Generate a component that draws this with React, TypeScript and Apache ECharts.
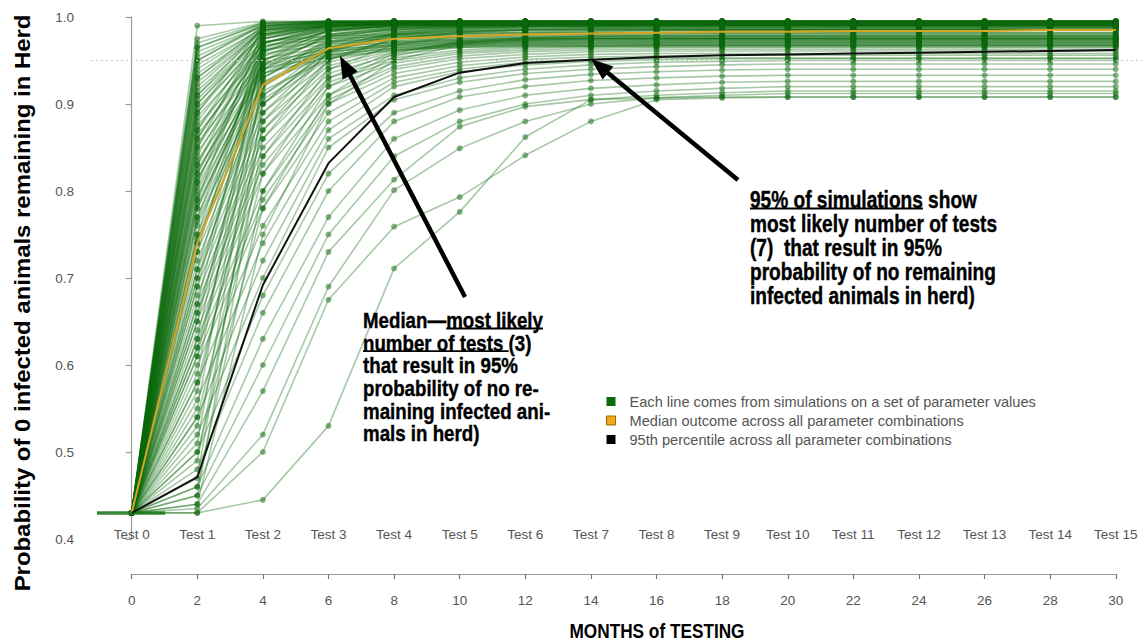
import React, { useEffect, useRef } from "react";
import * as echarts from "echarts";

// ---------------- DATA ----------------
const testIndex = [0, 1, 2, 3, 4, 5, 6, 7, 8, 9, 10, 11, 12, 13, 14, 15];

const medianValues = [0.43, 0.74, 0.922, 0.964, 0.975, 0.978, 0.98, 0.981, 0.982, 0.983, 0.983, 0.984, 0.984, 0.984, 0.985, 0.985];
const p95Values = [0.43, 0.471, 0.692, 0.832, 0.908, 0.936, 0.947, 0.951, 0.954, 0.956, 0.957, 0.958, 0.959, 0.96, 0.961, 0.962];

// simulation lines (one per parameter set), values at Test 0..15
const simLines: number[][] = [
  [0.43, 0.99, 0.995, 0.995, 0.995, 0.995, 0.995, 0.995, 0.995, 0.995, 0.995, 0.995, 0.995, 0.995, 0.995, 0.995],
  [0.43, 0.97, 0.993, 0.995, 0.995, 0.995, 0.995, 0.995, 0.995, 0.995, 0.995, 0.995, 0.995, 0.995, 0.995, 0.995],
  [0.43, 0.96, 0.99, 0.994, 0.995, 0.995, 0.995, 0.995, 0.995, 0.995, 0.995, 0.995, 0.995, 0.995, 0.995, 0.995],
  [0.43, 0.95, 0.99, 0.993, 0.994, 0.994, 0.994, 0.994, 0.994, 0.994, 0.994, 0.994, 0.994, 0.994, 0.994, 0.994],
  [0.43, 0.94, 0.988, 0.992, 0.993, 0.993, 0.993, 0.993, 0.993, 0.993, 0.993, 0.993, 0.993, 0.993, 0.993, 0.993],
  [0.43, 0.93, 0.985, 0.99, 0.992, 0.993, 0.993, 0.993, 0.993, 0.993, 0.993, 0.993, 0.993, 0.993, 0.993, 0.993],
  [0.43, 0.92, 0.985, 0.991, 0.993, 0.994, 0.994, 0.994, 0.994, 0.994, 0.994, 0.994, 0.994, 0.994, 0.994, 0.994],
  [0.43, 0.91, 0.98, 0.99, 0.992, 0.993, 0.993, 0.993, 0.993, 0.993, 0.993, 0.993, 0.993, 0.993, 0.993, 0.993],
  [0.43, 0.9, 0.982, 0.99, 0.992, 0.992, 0.992, 0.992, 0.992, 0.992, 0.992, 0.992, 0.992, 0.992, 0.992, 0.992],
  [0.43, 0.89, 0.978, 0.988, 0.991, 0.992, 0.992, 0.992, 0.992, 0.992, 0.992, 0.992, 0.992, 0.992, 0.992, 0.992],
  [0.43, 0.88, 0.975, 0.987, 0.99, 0.991, 0.992, 0.992, 0.992, 0.992, 0.992, 0.992, 0.992, 0.992, 0.992, 0.992],
  [0.43, 0.87, 0.97, 0.985, 0.989, 0.99, 0.991, 0.991, 0.991, 0.991, 0.991, 0.991, 0.991, 0.991, 0.991, 0.991],
  [0.43, 0.86, 0.975, 0.99, 0.993, 0.994, 0.994, 0.994, 0.994, 0.994, 0.994, 0.994, 0.994, 0.994, 0.994, 0.994],
  [0.43, 0.85, 0.965, 0.983, 0.988, 0.99, 0.991, 0.991, 0.991, 0.991, 0.991, 0.991, 0.991, 0.991, 0.991, 0.991],
  [0.43, 0.84, 0.97, 0.986, 0.99, 0.991, 0.991, 0.991, 0.991, 0.991, 0.991, 0.991, 0.991, 0.991, 0.991, 0.991],
  [0.43, 0.83, 0.96, 0.98, 0.986, 0.988, 0.989, 0.99, 0.99, 0.99, 0.99, 0.99, 0.99, 0.99, 0.99, 0.99],
  [0.43, 0.82, 0.955, 0.978, 0.985, 0.988, 0.989, 0.99, 0.99, 0.99, 0.99, 0.99, 0.99, 0.99, 0.99, 0.99],
  [0.43, 0.81, 0.962, 0.984, 0.99, 0.992, 0.992, 0.992, 0.992, 0.992, 0.992, 0.992, 0.992, 0.992, 0.992, 0.992],
  [0.43, 0.8, 0.95, 0.975, 0.983, 0.986, 0.987, 0.988, 0.988, 0.988, 0.988, 0.988, 0.988, 0.988, 0.988, 0.988],
  [0.43, 0.79, 0.945, 0.977, 0.986, 0.989, 0.99, 0.99, 0.99, 0.99, 0.99, 0.99, 0.99, 0.99, 0.99, 0.99],
  [0.43, 0.78, 0.94, 0.972, 0.981, 0.984, 0.986, 0.987, 0.987, 0.987, 0.987, 0.987, 0.987, 0.987, 0.987, 0.987],
  [0.43, 0.77, 0.935, 0.97, 0.98, 0.984, 0.985, 0.986, 0.986, 0.986, 0.986, 0.986, 0.986, 0.986, 0.986, 0.986],
  [0.43, 0.76, 0.93, 0.968, 0.979, 0.983, 0.985, 0.986, 0.986, 0.986, 0.986, 0.986, 0.986, 0.986, 0.986, 0.986],
  [0.43, 0.75, 0.925, 0.965, 0.977, 0.981, 0.983, 0.984, 0.985, 0.985, 0.985, 0.985, 0.985, 0.985, 0.985, 0.985],
  [0.43, 0.74, 0.92, 0.963, 0.976, 0.98, 0.982, 0.983, 0.984, 0.985, 0.985, 0.985, 0.985, 0.985, 0.985, 0.985],
  [0.43, 0.73, 0.91, 0.958, 0.972, 0.977, 0.979, 0.98, 0.981, 0.981, 0.981, 0.981, 0.981, 0.981, 0.981, 0.981],
  [0.43, 0.72, 0.905, 0.955, 0.97, 0.975, 0.977, 0.978, 0.979, 0.979, 0.979, 0.979, 0.979, 0.979, 0.979, 0.979],
  [0.43, 0.71, 0.9, 0.952, 0.968, 0.973, 0.976, 0.977, 0.978, 0.978, 0.978, 0.978, 0.978, 0.978, 0.978, 0.978],
  [0.43, 0.7, 0.89, 0.948, 0.965, 0.971, 0.974, 0.975, 0.976, 0.976, 0.976, 0.976, 0.976, 0.976, 0.976, 0.976],
  [0.43, 0.69, 0.88, 0.944, 0.962, 0.969, 0.972, 0.973, 0.974, 0.974, 0.974, 0.974, 0.974, 0.974, 0.974, 0.974],
  [0.43, 0.68, 0.87, 0.94, 0.96, 0.967, 0.97, 0.971, 0.972, 0.972, 0.972, 0.972, 0.972, 0.972, 0.972, 0.972],
  [0.43, 0.67, 0.86, 0.935, 0.957, 0.965, 0.968, 0.969, 0.97, 0.97, 0.97, 0.97, 0.97, 0.97, 0.97, 0.97],
  [0.43, 0.66, 0.85, 0.93, 0.953, 0.962, 0.966, 0.967, 0.968, 0.968, 0.968, 0.968, 0.968, 0.968, 0.968, 0.968],
  [0.43, 0.65, 0.84, 0.925, 0.95, 0.96, 0.964, 0.966, 0.967, 0.967, 0.967, 0.967, 0.967, 0.967, 0.967, 0.967],
  [0.43, 0.64, 0.83, 0.92, 0.947, 0.958, 0.962, 0.964, 0.965, 0.965, 0.965, 0.965, 0.965, 0.965, 0.965, 0.965],
  [0.43, 0.63, 0.82, 0.91, 0.943, 0.955, 0.96, 0.962, 0.963, 0.963, 0.963, 0.963, 0.963, 0.963, 0.963, 0.963],
  [0.43, 0.62, 0.8, 0.905, 0.94, 0.952, 0.957, 0.96, 0.961, 0.961, 0.961, 0.961, 0.961, 0.961, 0.961, 0.961],
  [0.43, 0.61, 0.79, 0.9, 0.935, 0.948, 0.954, 0.957, 0.958, 0.958, 0.958, 0.958, 0.958, 0.958, 0.958, 0.958],
  [0.43, 0.6, 0.78, 0.89, 0.93, 0.944, 0.951, 0.954, 0.955, 0.956, 0.956, 0.956, 0.956, 0.956, 0.956, 0.956],
  [0.43, 0.58, 0.76, 0.88, 0.925, 0.94, 0.948, 0.951, 0.953, 0.953, 0.953, 0.953, 0.953, 0.953, 0.953, 0.953],
  [0.43, 0.56, 0.74, 0.87, 0.92, 0.937, 0.945, 0.949, 0.951, 0.952, 0.952, 0.952, 0.952, 0.952, 0.952, 0.952],
  [0.43, 0.54, 0.72, 0.86, 0.91, 0.93, 0.94, 0.945, 0.948, 0.949, 0.95, 0.95, 0.95, 0.95, 0.95, 0.95],
  [0.43, 0.52, 0.7, 0.85, 0.905, 0.925, 0.935, 0.94, 0.943, 0.945, 0.946, 0.946, 0.946, 0.946, 0.946, 0.946],
  [0.43, 0.5, 0.68, 0.82, 0.89, 0.915, 0.928, 0.934, 0.937, 0.939, 0.94, 0.94, 0.94, 0.94, 0.94, 0.94],
  [0.43, 0.48, 0.66, 0.8, 0.88, 0.908, 0.92, 0.927, 0.93, 0.932, 0.933, 0.933, 0.933, 0.933, 0.933, 0.933],
  [0.43, 0.46, 0.63, 0.77, 0.86, 0.893, 0.91, 0.918, 0.922, 0.925, 0.926, 0.926, 0.926, 0.926, 0.926, 0.926],
  [0.43, 0.45, 0.6, 0.75, 0.84, 0.88, 0.9, 0.91, 0.915, 0.918, 0.92, 0.92, 0.92, 0.92, 0.92, 0.92],
  [0.43, 0.44, 0.57, 0.73, 0.813, 0.874, 0.897, 0.905, 0.91, 0.913, 0.915, 0.915, 0.915, 0.915, 0.915, 0.915],
  [0.43, 0.435, 0.52, 0.69, 0.801, 0.849, 0.88, 0.9, 0.907, 0.91, 0.912, 0.912, 0.912, 0.912, 0.912, 0.912],
  [0.43, 0.43, 0.5, 0.675, 0.759, 0.793, 0.841, 0.88, 0.905, 0.907, 0.908, 0.908, 0.908, 0.908, 0.908, 0.908],
  [0.43, 0.43, 0.445, 0.53, 0.711, 0.776, 0.862, 0.905, 0.907, 0.908, 0.908, 0.908, 0.908, 0.908, 0.908, 0.908],
];

// additional fast-converging parameter sets
const fastLines: number[][] = [
  [0.43, 0.975, 0.994, 0.995, 0.995, 0.995, 0.995, 0.995, 0.995, 0.995, 0.995, 0.995, 0.995, 0.995, 0.995, 0.995],
  [0.43, 0.965, 0.992, 0.994, 0.994, 0.994, 0.994, 0.994, 0.994, 0.994, 0.994, 0.994, 0.994, 0.994, 0.994, 0.994],
  [0.43, 0.955, 0.99, 0.993, 0.994, 0.994, 0.994, 0.994, 0.994, 0.994, 0.994, 0.994, 0.994, 0.994, 0.994, 0.994],
  [0.43, 0.945, 0.987, 0.992, 0.993, 0.993, 0.993, 0.993, 0.993, 0.993, 0.993, 0.993, 0.993, 0.993, 0.993, 0.993],
  [0.43, 0.935, 0.986, 0.991, 0.992, 0.992, 0.992, 0.992, 0.992, 0.992, 0.992, 0.992, 0.992, 0.992, 0.992, 0.992],
  [0.43, 0.925, 0.984, 0.99, 0.992, 0.992, 0.992, 0.992, 0.992, 0.992, 0.992, 0.992, 0.992, 0.992, 0.992, 0.992],
  [0.43, 0.915, 0.983, 0.99, 0.991, 0.991, 0.991, 0.991, 0.991, 0.991, 0.991, 0.991, 0.991, 0.991, 0.991, 0.991],
  [0.43, 0.905, 0.98, 0.989, 0.991, 0.991, 0.991, 0.991, 0.991, 0.991, 0.991, 0.991, 0.991, 0.991, 0.991, 0.991],
  [0.43, 0.895, 0.972, 0.978, 0.98, 0.981, 0.982, 0.982, 0.982, 0.982, 0.982, 0.982, 0.982, 0.982, 0.982, 0.982],
  [0.43, 0.885, 0.968, 0.975, 0.978, 0.979, 0.98, 0.98, 0.98, 0.98, 0.98, 0.98, 0.98, 0.98, 0.98, 0.98],
  [0.43, 0.875, 0.962, 0.972, 0.975, 0.977, 0.978, 0.978, 0.978, 0.978, 0.978, 0.978, 0.978, 0.978, 0.978, 0.978],
  [0.43, 0.865, 0.958, 0.969, 0.973, 0.975, 0.976, 0.976, 0.976, 0.976, 0.976, 0.976, 0.976, 0.976, 0.976, 0.976],
  [0.43, 0.855, 0.952, 0.966, 0.971, 0.973, 0.974, 0.974, 0.974, 0.974, 0.974, 0.974, 0.974, 0.974, 0.974, 0.974],
  [0.43, 0.845, 0.948, 0.963, 0.968, 0.971, 0.972, 0.972, 0.972, 0.972, 0.972, 0.972, 0.972, 0.972, 0.972, 0.972],
  [0.43, 0.835, 0.944, 0.96, 0.966, 0.969, 0.97, 0.97, 0.97, 0.97, 0.97, 0.97, 0.97, 0.97, 0.97, 0.97],
  [0.43, 0.825, 0.94, 0.957, 0.964, 0.967, 0.968, 0.968, 0.968, 0.968, 0.968, 0.968, 0.968, 0.968, 0.968, 0.968],
  [0.43, 0.815, 0.935, 0.954, 0.962, 0.965, 0.966, 0.966, 0.966, 0.966, 0.966, 0.966, 0.966, 0.966, 0.966, 0.966],
  [0.43, 0.805, 0.945, 0.965, 0.971, 0.974, 0.975, 0.975, 0.975, 0.975, 0.975, 0.975, 0.975, 0.975, 0.975, 0.975],
  [0.43, 0.795, 0.94, 0.962, 0.969, 0.972, 0.973, 0.973, 0.973, 0.973, 0.973, 0.973, 0.973, 0.973, 0.973, 0.973],
  [0.43, 0.785, 0.935, 0.96, 0.967, 0.97, 0.971, 0.971, 0.971, 0.971, 0.971, 0.971, 0.971, 0.971, 0.971, 0.971],
  [0.43, 0.765, 0.925, 0.956, 0.964, 0.968, 0.969, 0.969, 0.969, 0.969, 0.969, 0.969, 0.969, 0.969, 0.969, 0.969],
  [0.43, 0.745, 0.915, 0.952, 0.962, 0.966, 0.967, 0.967, 0.967, 0.967, 0.967, 0.967, 0.967, 0.967, 0.967, 0.967],
];

// parameter sets whose early ranking differs (crossing lines)
const crossLines: number[][] = [
  [0.43, 0.45, 0.86, 0.95, 0.975, 0.982, 0.985, 0.985, 0.985, 0.985, 0.985, 0.985, 0.985, 0.985, 0.985, 0.985],
  [0.43, 0.47, 0.9, 0.965, 0.982, 0.987, 0.99, 0.99, 0.99, 0.99, 0.99, 0.99, 0.99, 0.99, 0.99, 0.99],
  [0.43, 0.49, 0.88, 0.96, 0.98, 0.985, 0.988, 0.988, 0.988, 0.988, 0.988, 0.988, 0.988, 0.988, 0.988, 0.988],
  [0.43, 0.51, 0.93, 0.975, 0.987, 0.99, 0.992, 0.992, 0.992, 0.992, 0.992, 0.992, 0.992, 0.992, 0.992, 0.992],
  [0.43, 0.53, 0.82, 0.93, 0.96, 0.97, 0.975, 0.975, 0.975, 0.975, 0.975, 0.975, 0.975, 0.975, 0.975, 0.975],
  [0.43, 0.55, 0.95, 0.985, 0.99, 0.992, 0.993, 0.993, 0.993, 0.993, 0.993, 0.993, 0.993, 0.993, 0.993, 0.993],
  [0.43, 0.57, 0.89, 0.96, 0.978, 0.983, 0.986, 0.986, 0.986, 0.986, 0.986, 0.986, 0.986, 0.986, 0.986, 0.986],
  [0.43, 0.59, 0.97, 0.99, 0.993, 0.994, 0.994, 0.994, 0.994, 0.994, 0.994, 0.994, 0.994, 0.994, 0.994, 0.994],
  [0.43, 0.61, 0.92, 0.97, 0.984, 0.988, 0.99, 0.99, 0.99, 0.99, 0.99, 0.99, 0.99, 0.99, 0.99, 0.99],
  [0.43, 0.63, 0.96, 0.985, 0.99, 0.992, 0.992, 0.992, 0.992, 0.992, 0.992, 0.992, 0.992, 0.992, 0.992, 0.992],
  [0.43, 0.65, 0.94, 0.98, 0.988, 0.99, 0.99, 0.99, 0.99, 0.99, 0.99, 0.99, 0.99, 0.99, 0.99, 0.99],
  [0.43, 0.67, 0.975, 0.99, 0.993, 0.994, 0.994, 0.994, 0.994, 0.994, 0.994, 0.994, 0.994, 0.994, 0.994, 0.994],
  [0.43, 0.69, 0.955, 0.983, 0.99, 0.991, 0.991, 0.991, 0.991, 0.991, 0.991, 0.991, 0.991, 0.991, 0.991, 0.991],
  [0.43, 0.71, 0.965, 0.988, 0.992, 0.993, 0.993, 0.993, 0.993, 0.993, 0.993, 0.993, 0.993, 0.993, 0.993, 0.993],
  [0.43, 0.73, 0.98, 0.992, 0.994, 0.995, 0.995, 0.995, 0.995, 0.995, 0.995, 0.995, 0.995, 0.995, 0.995, 0.995],
  [0.43, 0.75, 0.97, 0.988, 0.992, 0.993, 0.993, 0.993, 0.993, 0.993, 0.993, 0.993, 0.993, 0.993, 0.993, 0.993],
  [0.43, 0.77, 0.96, 0.984, 0.99, 0.991, 0.991, 0.991, 0.991, 0.991, 0.991, 0.991, 0.991, 0.991, 0.991, 0.991],
  [0.43, 0.79, 0.985, 0.993, 0.995, 0.995, 0.995, 0.995, 0.995, 0.995, 0.995, 0.995, 0.995, 0.995, 0.995, 0.995],
  [0.43, 0.81, 0.975, 0.99, 0.993, 0.993, 0.993, 0.993, 0.993, 0.993, 0.993, 0.993, 0.993, 0.993, 0.993, 0.993],
  [0.43, 0.83, 0.98, 0.991, 0.994, 0.994, 0.994, 0.994, 0.994, 0.994, 0.994, 0.994, 0.994, 0.994, 0.994, 0.994],
  [0.43, 0.85, 0.988, 0.994, 0.995, 0.995, 0.995, 0.995, 0.995, 0.995, 0.995, 0.995, 0.995, 0.995, 0.995, 0.995],
  [0.43, 0.87, 0.985, 0.993, 0.995, 0.995, 0.995, 0.995, 0.995, 0.995, 0.995, 0.995, 0.995, 0.995, 0.995, 0.995],
  [0.43, 0.89, 0.99, 0.994, 0.995, 0.995, 0.995, 0.995, 0.995, 0.995, 0.995, 0.995, 0.995, 0.995, 0.995, 0.995],
  [0.43, 0.91, 0.988, 0.993, 0.994, 0.994, 0.994, 0.994, 0.994, 0.994, 0.994, 0.994, 0.994, 0.994, 0.994, 0.994],
  [0.43, 0.93, 0.99, 0.995, 0.995, 0.995, 0.995, 0.995, 0.995, 0.995, 0.995, 0.995, 0.995, 0.995, 0.995, 0.995],
  [0.43, 0.95, 0.992, 0.995, 0.995, 0.995, 0.995, 0.995, 0.995, 0.995, 0.995, 0.995, 0.995, 0.995, 0.995, 0.995],
  [0.43, 0.965, 0.993, 0.995, 0.995, 0.995, 0.995, 0.995, 0.995, 0.995, 0.995, 0.995, 0.995, 0.995, 0.995, 0.995],
  [0.43, 0.44, 0.75, 0.9, 0.95, 0.968, 0.973, 0.975, 0.975, 0.975, 0.975, 0.975, 0.975, 0.975, 0.975, 0.975],
  [0.43, 0.46, 0.8, 0.92, 0.958, 0.972, 0.976, 0.978, 0.978, 0.978, 0.978, 0.978, 0.978, 0.978, 0.978, 0.978],
  [0.43, 0.5, 0.78, 0.91, 0.955, 0.97, 0.975, 0.976, 0.976, 0.976, 0.976, 0.976, 0.976, 0.976, 0.976, 0.976],
  [0.43, 0.54, 0.84, 0.94, 0.968, 0.978, 0.981, 0.982, 0.982, 0.982, 0.982, 0.982, 0.982, 0.982, 0.982, 0.982],
  [0.43, 0.58, 0.87, 0.952, 0.975, 0.982, 0.985, 0.985, 0.985, 0.985, 0.985, 0.985, 0.985, 0.985, 0.985, 0.985],
  [0.43, 0.62, 0.9, 0.962, 0.98, 0.986, 0.988, 0.988, 0.988, 0.988, 0.988, 0.988, 0.988, 0.988, 0.988, 0.988],
  [0.43, 0.66, 0.91, 0.965, 0.982, 0.987, 0.989, 0.989, 0.989, 0.989, 0.989, 0.989, 0.989, 0.989, 0.989, 0.989],
  [0.43, 0.7, 0.93, 0.972, 0.985, 0.989, 0.99, 0.99, 0.99, 0.99, 0.99, 0.99, 0.99, 0.99, 0.99, 0.99],
  [0.43, 0.74, 0.945, 0.978, 0.987, 0.99, 0.991, 0.991, 0.991, 0.991, 0.991, 0.991, 0.991, 0.991, 0.991, 0.991],
  [0.43, 0.78, 0.95, 0.98, 0.988, 0.99, 0.991, 0.991, 0.991, 0.991, 0.991, 0.991, 0.991, 0.991, 0.991, 0.991],
  [0.43, 0.82, 0.965, 0.986, 0.991, 0.992, 0.992, 0.992, 0.992, 0.992, 0.992, 0.992, 0.992, 0.992, 0.992, 0.992],
  [0.43, 0.86, 0.97, 0.988, 0.992, 0.993, 0.993, 0.993, 0.993, 0.993, 0.993, 0.993, 0.993, 0.993, 0.993, 0.993],
  [0.43, 0.9, 0.978, 0.99, 0.993, 0.993, 0.993, 0.993, 0.993, 0.993, 0.993, 0.993, 0.993, 0.993, 0.993, 0.993],
];

// thick baseline segment at Test 0
const baseSegX = [-0.53, 0.51];
const baseSegY = [0.43, 0.43];

const threshold = 0.95;
const medianTest = 3;
const p95Test = 7;

const seriesNames = [
  "Each line comes from simulations on a set of parameter values",
  "Median outcome across all parameter combinations",
  "95th percentile across all parameter combinations",
];

const yTitle = "Probability of 0 infected animals remaining in Herd";
const xTitle = "MONTHS of TESTING";

const medianNote = [
  "Median\u2014most likely",
  "number of tests (3)",
  "that result in 95%",
  "probability of no re-",
  "maining infected ani-",
  "mals in herd)",
];
const p95Note = [
  "95% of simulations show",
  "most likely number of tests",
  "(7)  that result in 95%",
  "probability of no remaining",
  "infected animals in herd)",
];

// ---------------- CHART ----------------
const GREEN = "#0b680b";
const SANS = "'Liberation Sans', Arial, sans-serif";

function measure(text: string, font: string): number {
  const c = document.createElement("canvas");
  const ctx = c.getContext("2d")!;
  ctx.font = font;
  return ctx.measureText(text).width;
}

function arrow(x1: number, y1: number, x2: number, y2: number) {
  const dx = x2 - x1;
  const dy = y2 - y1;
  const len = Math.sqrt(dx * dx + dy * dy);
  const ux = dx / len;
  const uy = dy / len;
  const headLen = 22;
  const headW = 8.5;
  const bx = x2 - ux * headLen;
  const by = y2 - uy * headLen;
  return [
    {
      type: "line",
      z: 100,
      shape: { x1, y1, x2: bx + ux * 2, y2: by + uy * 2 },
      style: { stroke: "#000", lineWidth: 4.5 },
    },
    {
      type: "polygon",
      z: 100,
      shape: {
        points: [
          [x2, y2],
          [bx - uy * headW, by + ux * headW],
          [bx + uy * headW, by - ux * headW],
        ],
      },
      style: { fill: "#000" },
    },
  ];
}

// bold "narrow" text: regular bold sans compressed horizontally to the width seen in the reference
function narrowText(text: string, x: number, y: number, size: number, targetWidth: number, align: string, rotation = 0) {
  const font = `bold ${size}px ${SANS}`;
  const sx = targetWidth / measure(text, font);
  return {
    type: "text",
    z: 100,
    x,
    y,
    rotation,
    scaleX: sx,
    style: {
      text,
      fontSize: size,
      fontWeight: "bold",
      fontFamily: SANS,
      fill: "#000",
      align,
      verticalAlign: "middle",
    },
  };
}

function noteBlock(lines: string[], left: number, top: number, lh: number, size: number, firstWidth: number, underlines: { line: number; pre: string; seg: string }[]) {
  const font = `bold ${size}px ${SANS}`;
  const sx = firstWidth / measure(lines[0], font);
  const els: any[] = lines.map((t, i) => ({
    type: "text",
    z: 100,
    x: left,
    y: top + i * lh,
    scaleX: sx,
    style: {
      text: t,
      fontSize: size,
      fontWeight: "bold",
      fontFamily: SANS,
      fill: "#000",
      stroke: "#000",
      lineWidth: 0.4,
      align: "left",
      verticalAlign: "middle",
    },
  }));
  underlines.forEach((u) => {
    const x0 = left + measure(u.pre, font) * sx;
    const w = measure(u.seg, font) * sx;
    const y = top + u.line * lh + 8.5;
    els.push({
      type: "line",
      z: 100,
      shape: { x1: x0, y1: y, x2: x0 + w, y2: y },
      style: { stroke: "#000", lineWidth: 1.8 },
    });
  });
  return els;
}

export default function App() {
  const ref = useRef<HTMLDivElement>(null);

  useEffect(() => {
    document.body.style.margin = "0";
    if (!ref.current) return;
    const chart = echarts.init(ref.current, undefined, { renderer: "svg" });

    const allLines = [...simLines, ...fastLines, ...crossLines];
    const greenSeries = allLines.map((line) => ({
      name: seriesNames[0],
      type: "line",
      xAxisIndex: 0,
      yAxisIndex: 0,
      data: line.map((v, i) => [testIndex[i], v]),
      symbol: "circle",
      symbolSize: 6,
      showSymbol: true,
      silent: true,
      z: 2,
      lineStyle: { color: GREEN, width: 1.6, opacity: 0.36 },
      itemStyle: { color: GREEN, opacity: 0.5 },
    }));

    const option: any = {
      animation: false,
      backgroundColor: "#fff",
      grid: [
        { left: 91, right: 0, top: 17, bottom: 103 },
        { left: 131.7, right: 26.2, top: 573, height: 1 },
      ],
      xAxis: [
        {
          type: "value",
          gridIndex: 0,
          min: -0.62,
          max: 15.4,
          axisLine: { show: false },
          axisTick: { show: false },
          splitLine: { show: false },
          axisLabel: {
            customValues: testIndex,
            formatter: (v: number) => "Test " + v,
            margin: -12,
            color: "#555",
            fontSize: 13.5,
            fontFamily: SANS,
          },
        },
        {
          type: "value",
          gridIndex: 1,
          min: 0,
          max: 30,
          interval: 2,
          axisLine: { show: true, lineStyle: { color: "#999", width: 1.2 } },
          axisTick: { show: true, length: 5, lineStyle: { color: "#777", width: 1.2 } },
          splitLine: { show: false },
          axisLabel: { margin: 19, color: "#555", fontSize: 13.5, fontFamily: SANS },
        },
      ],
      yAxis: [
        {
          type: "value",
          gridIndex: 0,
          min: 0.4,
          max: 1.0,
          interval: 0.1,
          axisLine: { show: true, lineStyle: { color: "#999", width: 1.2 } },
          axisTick: { show: true, length: 6, lineStyle: { color: "#999", width: 1.2 } },
          splitLine: { show: false },
          axisLabel: {
            formatter: (v: number) => v.toFixed(1),
            margin: 17,
            color: "#555",
            fontSize: 13.5,
            fontFamily: SANS,
          },
        },
        { type: "value", gridIndex: 1, show: false, min: 0, max: 1 },
      ],
      legend: {
        orient: "vertical",
        left: 606,
        top: 394,
        padding: 0,
        itemWidth: 9,
        itemHeight: 9,
        itemGap: 4,
        selectedMode: false,
        data: [
          { name: seriesNames[0], icon: "rect", itemStyle: { color: "#0b6b0b", opacity: 1, borderWidth: 0 } },
          { name: seriesNames[1], icon: "rect", itemStyle: { color: "#f0a81c", opacity: 1, borderColor: "#a06800", borderWidth: 1 } },
          { name: seriesNames[2], icon: "rect", itemStyle: { color: "#000", opacity: 1, borderWidth: 0 } },
        ],
        textStyle: { color: "#555", fontSize: 14.6, fontFamily: SANS, padding: [0, 0, 0, 9] },
      },
      series: [
        {
          name: "threshold",
          type: "line",
          data: [],
          z: 1,
          markLine: {
            silent: true,
            symbol: "none",
            label: { show: false },
            lineStyle: { color: "#c8c8c8", type: [2, 3], width: 1 },
            data: [{ yAxis: threshold }],
          },
        },
        ...greenSeries,
        {
          name: "base",
          type: "line",
          data: baseSegX.map((x, i) => [x, baseSegY[i]]),
          symbol: "none",
          silent: true,
          z: 3,
          lineStyle: { color: "#1f7a1f", width: 3.5, opacity: 0.9 },
        },
        {
          name: seriesNames[1],
          type: "line",
          data: medianValues.map((v, i) => [testIndex[i], v]),
          symbol: "none",
          silent: true,
          z: 5,
          lineStyle: { color: "#d7a522", width: 2 },
          itemStyle: { color: "#f0a81c" },
        },
        {
          name: seriesNames[2],
          type: "line",
          data: p95Values.map((v, i) => [testIndex[i], v]),
          symbol: "none",
          silent: true,
          z: 5,
          lineStyle: { color: "#111", width: 2 },
          itemStyle: { color: "#000" },
        },
        {
          name: "verticals",
          type: "line",
          data: [],
          z: 20,
          markLine: {
            silent: true,
            symbol: "none",
            label: { show: false },
            data: [
              [
                { coord: [medianTest, 1.003], lineStyle: { color: "#000", width: 5, type: [21, 13] } },
                { coord: [medianTest, 0.426] },
              ],
              [
                { coord: [p95Test, 1.002], lineStyle: { color: "#000", width: 4, type: [4, 3.3] } },
                { coord: [p95Test, 0.425] },
              ],
            ],
          },
        },
      ],
      graphic: [
        narrowText(yTitle, 22, 303, 22, 577, "center", Math.PI / 2),
        narrowText(xTitle, 657, 631, 20, 175, "center"),
        ...arrow(465, 297, 340, 56),
        ...arrow(738, 180, 591, 59),
        ...noteBlock(medianNote, 363, 320, 22.6, 22.5, 180, [
          { line: 0, pre: "Median\u2014", seg: "most likely" },
          { line: 1, pre: "", seg: "number of tests " },
        ]),
        ...noteBlock(p95Note, 750, 200, 24, 23, 227, [{ line: 0, pre: "", seg: "95% of simulations" }]),
      ],
    };

    chart.setOption(option);
    return () => chart.dispose();
  }, []);

  return <div ref={ref} style={{ width: 1142, height: 642 }} />;
}
